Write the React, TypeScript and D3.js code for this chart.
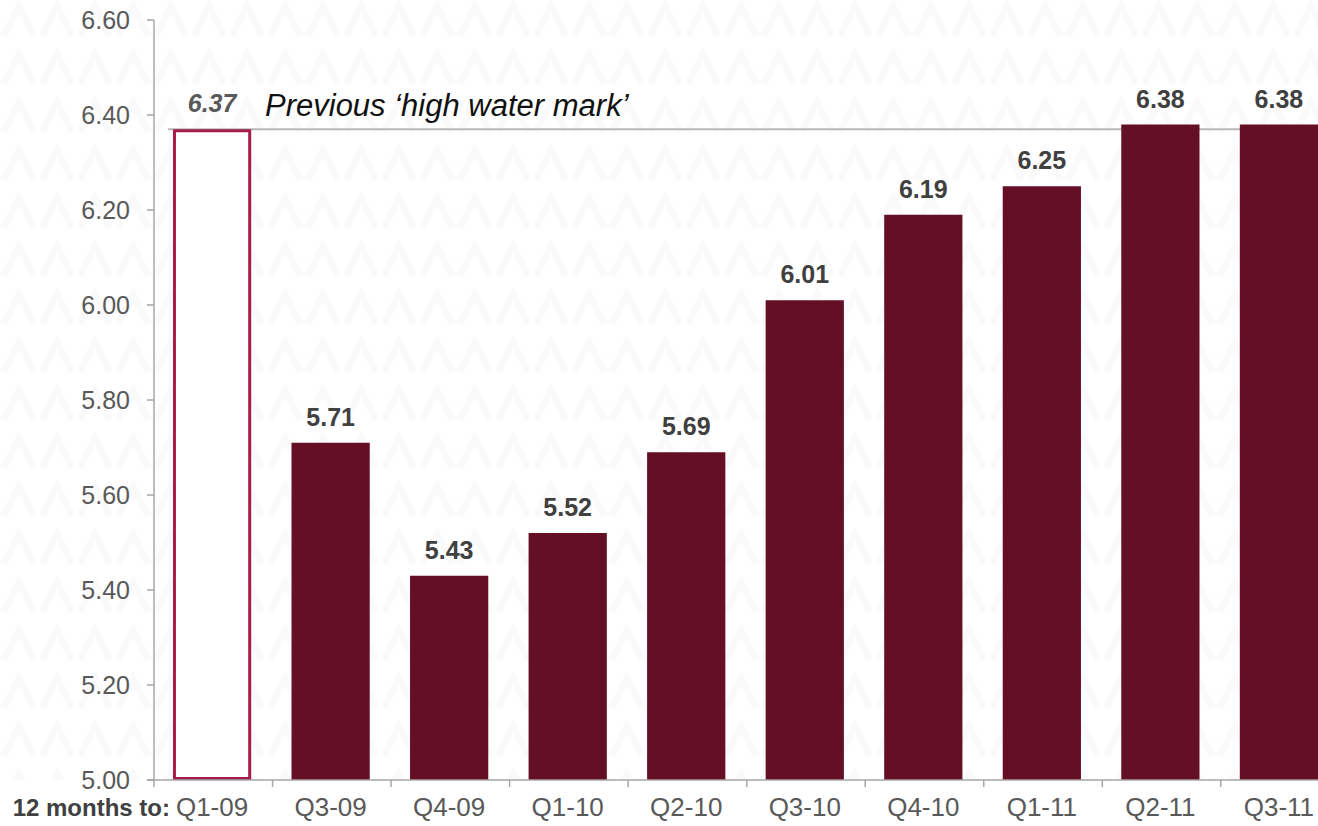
import React, { useRef, useEffect } from 'react';
import { select, scaleLinear, scaleBand, range } from 'd3';

const quarters = ['Q1-09', 'Q3-09', 'Q4-09', 'Q1-10', 'Q2-10', 'Q3-10', 'Q4-10', 'Q1-11', 'Q2-11', 'Q3-11'];
const values = [6.37, 5.71, 5.43, 5.52, 5.69, 6.01, 6.19, 6.25, 6.38, 6.38];
const yTicks = [5.0, 5.2, 5.4, 5.6, 5.8, 6.0, 6.2, 6.4, 6.6];
const highWaterMark = 6.37;

function App() {
  const rootRef = useRef<SVGSVGElement>(null);
  const width = 1318;
  const height = 826;
  const margin = { top: 20, left: 154, bottom: 46 };

  useEffect(() => {
    document.body.style.margin = '0';
    const root = select(rootRef.current);
    root.selectAll('*').remove();

    const yScale = scaleLinear()
      .domain([5.0, 6.6])
      .range([height - margin.bottom, margin.top]);

    const xScale = scaleBand()
      .domain(quarters)
      .range([margin.left, margin.left + 118.3 * 10])
      .paddingInner(0.34)
      .paddingOuter(0.16);

    // faint watermark chevrons
    const defs = root.append('defs');
    const pat = defs.append('pattern')
      .attr('id', 'wm')
      .attr('patternUnits', 'userSpaceOnUse')
      .attr('width', 38)
      .attr('height', 48);
    pat.append('path')
      .attr('d', 'M4,36 L19,6 L34,36')
      .attr('fill', 'none')
      .attr('stroke', '#fafafa')
      .attr('stroke-width', 7);
    root.append('rect')
      .attr('x', 0).attr('y', 0)
      .attr('width', width).attr('height', height - margin.bottom)
      .attr('fill', 'url(#wm)');

    const font = 'Arial, "Liberation Sans", sans-serif';

    // y axis
    const yAxis = root.append('g');
    yAxis.append('line')
      .attr('x1', margin.left).attr('x2', margin.left)
      .attr('y1', yScale(6.6)).attr('y2', yScale(5.0))
      .attr('stroke', '#a6a6a6').attr('stroke-width', 1.5);
    yTicks.forEach(t => {
      yAxis.append('line')
        .attr('x1', margin.left - 7).attr('x2', margin.left)
        .attr('y1', yScale(t)).attr('y2', yScale(t))
        .attr('stroke', '#a6a6a6').attr('stroke-width', 1.5);
      yAxis.append('text')
        .attr('x', 130).attr('y', yScale(t))
        .attr('dy', '0.36em')
        .attr('text-anchor', 'end')
        .attr('font-family', font)
        .attr('font-size', 25)
        .attr('fill', '#595959')
        .text(t.toFixed(2));
    });

    // high water mark line
    root.append('line')
      .attr('x1', 168).attr('x2', width)
      .attr('y1', yScale(highWaterMark)).attr('y2', yScale(highWaterMark))
      .attr('stroke', '#b8b8b8').attr('stroke-width', 2);

    // bars
    const step = xScale.step();
    quarters.forEach((q, i) => {
      const x = xScale(q) as number;
      const bw = xScale.bandwidth();
      const y = yScale(values[i]);
      if (i === 0) {
        root.append('rect')
          .attr('x', x + 1.5).attr('y', y + 1.5)
          .attr('width', bw - 3).attr('height', yScale(5.0) - y - 3)
          .attr('fill', '#fff')
          .attr('stroke', '#a51c47')
          .attr('stroke-width', 3);
        root.append('text')
          .attr('x', x + bw / 2).attr('y', y - 17)
          .attr('text-anchor', 'middle')
          .attr('font-family', font)
          .attr('font-size', 25)
          .attr('font-weight', 'bold')
          .attr('font-style', 'italic')
          .attr('fill', '#595959')
          .text(values[i].toFixed(2));
      } else {
        root.append('rect')
          .attr('x', x).attr('y', y)
          .attr('width', bw).attr('height', yScale(5.0) - y)
          .attr('fill', '#650f27');
        root.append('text')
          .attr('x', x + bw / 2).attr('y', y - 17)
          .attr('text-anchor', 'middle')
          .attr('font-family', font)
          .attr('font-size', 25)
          .attr('font-weight', 'bold')
          .attr('fill', '#404040')
          .text(values[i].toFixed(2));
      }
    });

    root.append('text')
      .attr('x', 265).attr('y', yScale(highWaterMark) - 13)
      .attr('font-family', font)
      .attr('font-size', 31)
      .attr('font-style', 'italic')
      .attr('fill', '#111')
      .text('Previous \u2018high water mark\u2019');

    // x axis
    const xAxis = root.append('g');
    const base = yScale(5.0);
    xAxis.append('line')
      .attr('x1', margin.left - 7).attr('x2', width)
      .attr('y1', base).attr('y2', base)
      .attr('stroke', '#a6a6a6').attr('stroke-width', 1.5);
    range(0, quarters.length + 1).forEach(i => {
      const tx = margin.left + i * step;
      xAxis.append('line')
        .attr('x1', tx).attr('x2', tx)
        .attr('y1', base).attr('y2', base + 7)
        .attr('stroke', '#a6a6a6').attr('stroke-width', 1.5);
    });
    quarters.forEach(q => {
      xAxis.append('text')
        .attr('x', (xScale(q) as number) + xScale.bandwidth() / 2)
        .attr('y', 816)
        .attr('text-anchor', 'middle')
        .attr('font-family', font)
        .attr('font-size', 26)
        .attr('fill', '#595959')
        .text(q);
    });
    xAxis.append('text')
      .attr('x', 170).attr('y', 816)
      .attr('text-anchor', 'end')
      .attr('font-family', font)
      .attr('font-size', 24)
      .attr('font-weight', 'bold')
      .attr('fill', '#404040')
      .text('12 months to:');
  });

  return (
    <svg ref={rootRef} width={width} height={height} style={{ display: 'block', background: '#fff' }}></svg>
  );
}

export default App;
